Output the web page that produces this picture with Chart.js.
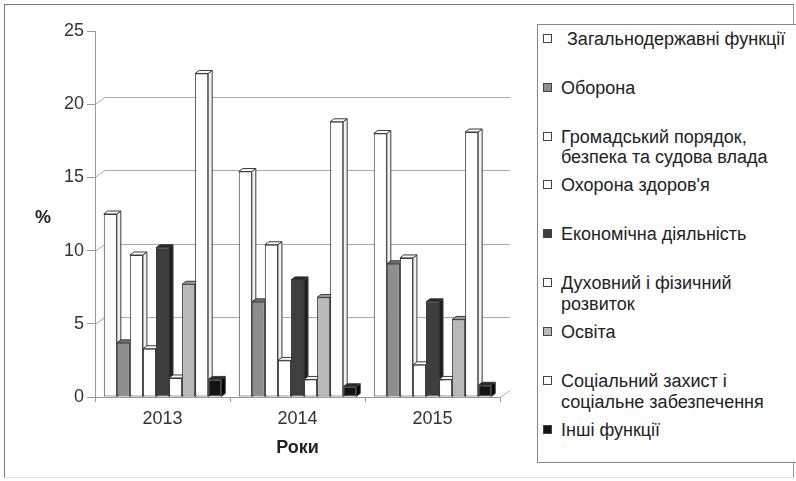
<!DOCTYPE html>
<html>
<head>
<meta charset="utf-8">
<script src="https://cdn.jsdelivr.net/npm/chart.js@4.4.1/dist/chart.umd.min.js"></script>
<style>
  html, body { margin: 0; padding: 0; background: #fff; }
  #wrap { position: relative; width: 796px; height: 481px; overflow: hidden;
          font-family: "Liberation Sans", Arial, sans-serif; color: #222; }
  #frame { position: absolute; left: 4px; top: 4px; width: 790px; height: 474px;
           border-left: 1px solid #777; border-top: 1px solid #777; border-right: 1px solid #999;
           border-bottom: 1px solid #e2e2e2; box-sizing: border-box; }
  canvas { position: absolute; left: 0; top: 0; }
  #ytitle { position: absolute; left: 35px; top: 206px; font-weight: bold; font-size: 18px; line-height: 22px; }
  #legend { position: absolute; left: 537px; top: 24px; width: 300px; height: 439px;
            border: 1px solid #888; box-sizing: border-box; background: #fff; }
  .item { position: absolute; left: 0; font-size: 18px; line-height: 20.5px; white-space: nowrap; }
  .mk { position: absolute; left: 5px; top: 5px; width: 9px; height: 9px; border: 1px solid #444; box-sizing: border-box; }
  .tx { position: absolute; left: 23px; top: 0; }
</style>
</head>
<body>
<div id="wrap">
  <div id="frame"></div>
  <canvas id="c" width="796" height="481"></canvas>
  <div id="ytitle"></div>
  <div id="legend"></div>
</div>
<script>
// ---- data ----
const categories = ["2013", "2014", "2015"];
const seriesNames = [
  ["Загальнодержавні функції"],
  ["Оборона"],
  ["Громадський порядок,", "безпека та судова влада"],
  ["Охорона здоров'я"],
  ["Економічна діяльність"],
  ["Духовний і фізичний", "розвиток"],
  ["Освіта"],
  ["Соціальний захист і", "соціальне забезпечення"],
  ["Інші функції"]
];
const generalFunctions  = [12.5, 15.4, 18.0];
const defence           = [3.7, 6.5, 9.1];
const publicOrder       = [9.7, 10.4, 9.5];
const health            = [3.3, 2.5, 2.2];
const economic          = [10.2, 8.0, 6.5];
const culture           = [1.3, 1.2, 1.2];
const education         = [7.7, 6.8, 5.3];
const socialProtection  = [22.1, 18.8, 18.1];
const otherFunctions    = [1.2, 0.7, 0.8];
const yTicks = [0, 5, 10, 15, 20, 25];
const backGridValues = [5, 10, 15, 20];
const xTitle = "Роки";
const yTitle = "%";

const seriesValues = [generalFunctions, defence, publicOrder, health, economic,
                      culture, education, socialProtection, otherFunctions];

// ---- styles ----
const frontColors = ["#ffffff", "#8e8e8e", "#ffffff", "#ffffff", "#3e3e3e", "#ffffff", "#b9b9b9", "#ffffff", "#141414"];
const sideColors  = ["#f2f2f2", "#6c6c6c", "#f2f2f2", "#f2f2f2", "#1e1e1e", "#f2f2f2", "#9a9a9a", "#f2f2f2", "#000000"];
const topColors   = ["#fafafa", "#707070", "#fafafa", "#fafafa", "#262626", "#fafafa", "#9c9c9c", "#fafafa", "#2a2a2a"];
const edgeColor = "#3c3c3c";
const FONT = "'Liberation Sans', Arial, sans-serif";
const BX = 4, BY = 3;      // bar depth offset
const WX = 10, WY = 7;     // back wall offset

const depth3d = {
  id: 'depth3d',
  beforeDatasetsDraw(chart) {
    const { ctx, chartArea: { left, right, bottom }, scales: { y } } = chart;
    ctx.save();
    ctx.strokeStyle = '#a9a9a9';
    ctx.lineWidth = 1;
    for (const v of backGridValues) {
      const yy = Math.round(y.getPixelForValue(v)) + 0.5;
      ctx.beginPath();
      ctx.moveTo(left, yy);
      ctx.lineTo(left + WX, yy - WY);
      ctx.lineTo(right + WX, yy - WY);
      ctx.stroke();
    }
    ctx.beginPath();
    ctx.moveTo(right, bottom + 0.5);
    ctx.lineTo(right + WX, bottom + 0.5 - WY);
    ctx.stroke();

    ctx.strokeStyle = edgeColor;
    const n = chart.data.datasets.length;
    for (let c = 0; c < categories.length; c++) {
      for (let d = 0; d < n; d++) {
        const el = chart.getDatasetMeta(d).data[c];
        const { x, y: yt, base, width } = el.getProps(['x', 'y', 'base', 'width'], true);
        const xl = x - width / 2, xr = x + width / 2;
        ctx.fillStyle = sideColors[d];
        ctx.beginPath();
        ctx.moveTo(xr, base); ctx.lineTo(xr, yt);
        ctx.lineTo(xr + BX, yt - BY); ctx.lineTo(xr + BX, base - BY);
        ctx.closePath(); ctx.fill(); ctx.stroke();
        ctx.fillStyle = topColors[d];
        ctx.beginPath();
        ctx.moveTo(xl, yt); ctx.lineTo(xl + BX, yt - BY);
        ctx.lineTo(xr + BX, yt - BY); ctx.lineTo(xr, yt);
        ctx.closePath(); ctx.fill(); ctx.stroke();
      }
    }
    ctx.restore();
  }
};

const datasets = seriesValues.map((vals, i) => ({
  label: seriesNames[i].join(' '),
  data: vals,
  backgroundColor: frontColors[i],
  borderColor: edgeColor,
  borderWidth: 1,
  borderSkipped: false
}));

new Chart(document.getElementById('c'), {
  type: 'bar',
  data: { labels: categories, datasets },
  plugins: [depth3d],
  options: {
    responsive: false,
    animation: false,
    devicePixelRatio: 1,
    layout: { padding: { left: 0, top: 31, right: 296, bottom: 0 } },
    plugins: { legend: { display: false }, tooltip: { enabled: false } },
    datasets: { bar: { categoryPercentage: 0.87, barPercentage: 1 } },
    scales: {
      x: {
        grid: { display: true, drawOnChartArea: false, drawTicks: true, tickLength: 5, color: '#999', offset: true },
        border: { display: true, color: '#999' },
        ticks: { font: { size: 18, family: FONT }, color: '#333', padding: 6 },
        title: { display: true, text: xTitle, font: { size: 18, weight: 'bold', family: FONT }, color: '#222',
                 padding: { top: 0, bottom: 22 } },
        afterFit(s) { s.height = 84; }
      },
      y: {
        min: 0, max: 25,
        afterBuildTicks(s) { s.ticks = yTicks.map(v => ({ value: v })); },
        ticks: { font: { size: 18, family: FONT }, color: '#333', padding: 3 },
        grid: { display: true, drawOnChartArea: false, drawTicks: true, tickLength: 8, color: '#999' },
        border: { display: true, color: '#999' },
        afterFit(s) { s.width = 95; }
      }
    }
  }
});

// ---- titles & legend (HTML text) ----
document.getElementById('ytitle').textContent = yTitle;
const legend = document.getElementById('legend');
seriesNames.forEach((lines, i) => {
  const item = document.createElement('div');
  item.className = 'item';
  item.style.top = (15 + i * 48.9 - 10.25 - 1) + 'px';
  const mk = document.createElement('div');
  mk.className = 'mk';
  mk.style.background = frontColors[i];
  const tx = document.createElement('div');
  tx.className = 'tx';
  if (i === 0) tx.style.left = '29px';
  lines.forEach((ln, k) => {
    if (k) tx.appendChild(document.createElement('br'));
    tx.appendChild(document.createTextNode(ln));
  });
  item.appendChild(mk);
  item.appendChild(tx);
  legend.appendChild(item);
});
</script>
</body>
</html>
